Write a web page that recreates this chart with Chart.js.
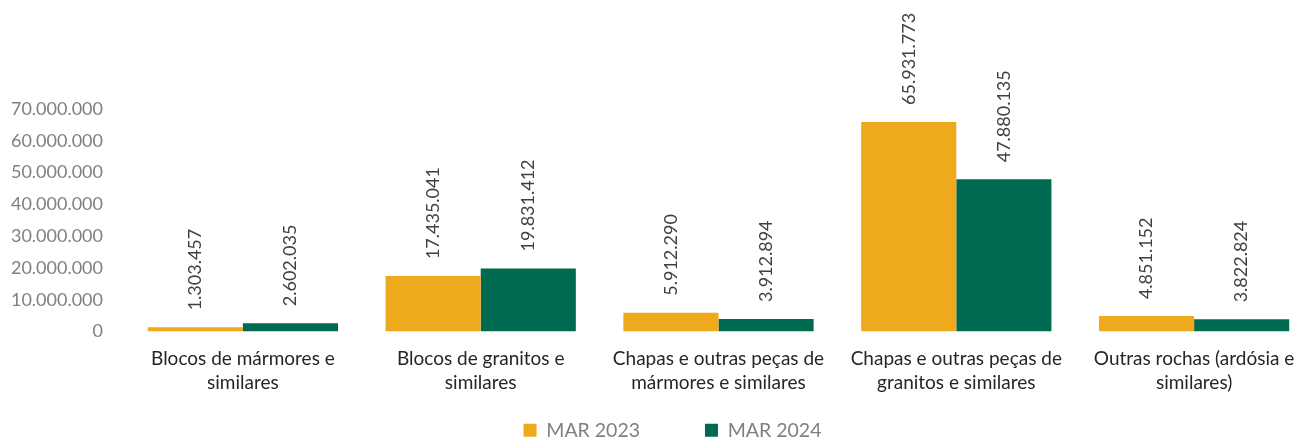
<!DOCTYPE html>
<html>
<head>
<meta charset="utf-8">
<script src="https://cdn.jsdelivr.net/npm/chart.js@4"></script>
<style>
    html, body { margin: 0; padding: 0; background: #fff; overflow: hidden; }
    #wrap { width: 1346px; height: 450px; }
</style>
</head>
<body>
<div id="wrap"><canvas id="exportChart" width="1346" height="450"></canvas></div>
<script>
// Chart data
const CATEGORIES = [
    ['Blocos de mármores e', 'similares'],
    ['Blocos de granitos e', 'similares'],
    ['Chapas e outras peças de', 'mármores e similares'],
    ['Chapas e outras peças de', 'granitos e similares'],
    ['Outras rochas (ardósia e', 'similares)']
];
const SERIES_NAMES = ['MAR 2023', 'MAR 2024'];
const MAR_2023 = [1303457, 17435041, 5912290, 65931773, 4851152];
const MAR_2024 = [2602035, 19831412, 3912894, 47880135, 3822824];
const Y_MAX = 70000000;
const Y_STEP = 10000000;

const COLORS = ['#EFA91D', '#006A50'];
const FONT = 'Lato, "Open Sans", sans-serif';

// Format numbers with dot thousands separator
function fmt(value) {
    return String(Math.round(value)).replace(/\B(?=(\d{3})+(?!\d))/g, '.');
}

// Vertical value labels above each bar
const barValueLabels = {
    id: 'barValueLabels',
    afterDatasetsDraw(chart) {
        const ctx = chart.ctx;
        ctx.save();
        ctx.font = '18px ' + FONT;
        ctx.fillStyle = '#404040';
        ctx.textAlign = 'left';
        ctx.textBaseline = 'middle';
        chart.data.datasets.forEach((ds, i) => {
            chart.getDatasetMeta(i).data.forEach((bar, j) => {
                ctx.save();
                ctx.translate(bar.x, bar.y - 17);
                ctx.rotate(-Math.PI / 2);
                ctx.fillText(fmt(ds.data[j]), 0, 0);
                ctx.restore();
            });
        });
        ctx.restore();
    }
};

// Nudge the legend a bit to the right so it sits under the plot centre
const legendShift = {
    id: 'legendShift',
    afterLayout(chart) {
        if (chart.legend) {
            chart.legend.left += 16;
            chart.legend.right += 16;
        }
    }
};

const ctx = document.getElementById('exportChart').getContext('2d');
new Chart(ctx, {
    type: 'bar',
    data: {
        labels: CATEGORIES,
        datasets: [{
            label: SERIES_NAMES[0],
            data: MAR_2023,
            backgroundColor: COLORS[0],
            barPercentage: 1.0,
            categoryPercentage: 0.8
        }, {
            label: SERIES_NAMES[1],
            data: MAR_2024,
            backgroundColor: COLORS[1],
            barPercentage: 1.0,
            categoryPercentage: 0.8
        }]
    },
    options: {
        responsive: false,
        animation: false,
        layout: {
            padding: { top: 109, right: 33, left: 0, bottom: 0 }
        },
        plugins: {
            tooltip: { enabled: false },
            legend: {
                position: 'bottom',
                labels: {
                    boxWidth: 13,
                    boxHeight: 13,
                    padding: 10,
                    color: '#808080',
                    font: { family: FONT, size: 19.5 },
                    // extra gap after the first item, like the original legend
                    generateLabels(chart) {
                        const items = Chart.defaults.plugins.legend.labels.generateLabels(chart);
                        items.forEach((item, i) => {
                            item.lineWidth = 0;
                            if (i === 0) item.text = item.text + '           ';
                        });
                        return items;
                    }
                }
            }
        },
        scales: {
            x: {
                grid: { display: false, drawTicks: false },
                border: { display: false },
                ticks: {
                    color: '#262626',
                    padding: 15,
                    maxRotation: 0,
                    autoSkip: false,
                    font: { family: FONT, size: 19, lineHeight: 1.27 }
                },
                afterFit(scale) { scale.height = 79; }
            },
            y: {
                min: 0,
                max: Y_MAX,
                grid: { display: false, drawTicks: false },
                border: { display: false },
                ticks: {
                    stepSize: Y_STEP,
                    color: '#808080',
                    padding: 21,
                    font: { family: FONT, size: 18 },
                    callback: value => fmt(value)
                },
                afterFit(scale) { scale.width = 124; }
            }
        }
    },
    plugins: [barValueLabels, legendShift]
});
</script>
</body>
</html>
